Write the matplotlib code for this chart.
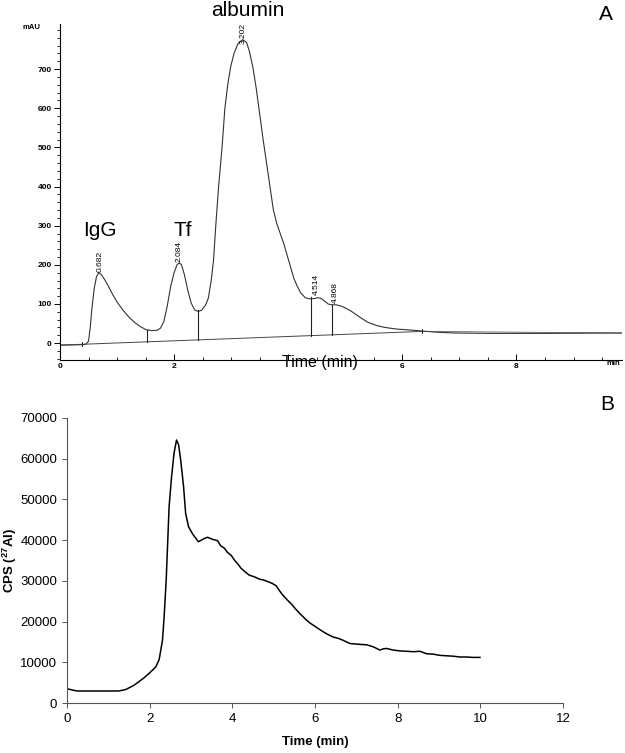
import matplotlib
matplotlib.use("Agg")
import matplotlib.pyplot as plt
from matplotlib.ticker import MultipleLocator

plt.rcParams['font.family'] = ['Liberation Sans', 'DejaVu Sans']
plt.rcParams['mathtext.fontset'] = 'custom'
plt.rcParams['mathtext.rm'] = 'Liberation Sans'
plt.rcParams['mathtext.bf'] = 'Liberation Sans:bold'

# panel A: UV chromatogram (min, mAU)
uv_time = [0.00, 0.38, 0.45, 0.50, 0.53, 0.56, 0.60, 0.64, 0.68, 0.72, 0.78, 0.85,
           0.92, 1.00, 1.10, 1.20, 1.30, 1.40, 1.50, 1.60, 1.70, 1.76, 1.82, 1.88,
           1.94, 2.00, 2.05, 2.09, 2.13, 2.18, 2.24, 2.30, 2.36, 2.42, 2.48, 2.55,
           2.60, 2.65, 2.69, 2.73, 2.78, 2.84, 2.89, 2.94, 2.99, 3.05, 3.12, 3.20,
           3.27, 3.32, 3.38, 3.44, 3.50, 3.56, 3.62, 3.68, 3.74, 3.80, 3.86, 3.92,
           3.98, 4.04, 4.10, 4.16, 4.22, 4.30, 4.38, 4.46, 4.52, 4.58, 4.64, 4.70,
           4.76, 4.84, 4.92, 5.00, 5.10, 5.20, 5.30, 5.40, 5.55, 5.70, 5.90, 6.10,
           6.35, 6.60, 6.90, 7.50, 8.50, 9.85]
uv_mau = [-5, -4, -3, 5, 40, 90, 140, 170, 180, 176, 163, 145,
          125, 105, 85, 68, 54, 43, 35, 32, 33, 38, 55, 95,
          145, 180, 200, 205, 200, 175, 135, 102, 85, 81, 84, 97,
          115, 160, 210, 300, 400, 500, 600, 660, 705, 740, 765, 775,
          768, 745, 705, 650, 585, 520, 460, 400, 340, 305, 280, 255,
          225, 195, 165, 145, 128, 116, 113, 114, 116, 114, 107, 100,
          98, 98, 95, 90, 82, 72, 62, 53, 45, 40, 36, 34,
          31, 28, 26, 25, 25, 26]

baseline_t = [0.0, 6.35]
baseline_v = [-5, 30]

peak_labels = ["0.682", "2.084", "3.202", "4.514", "4.868"]
peak_label_t = [0.70, 2.09, 3.21, 4.49, 4.82]
peak_label_v = [182, 208, 764, 123, 103]

drop_t = [1.53, 2.42, 4.40, 4.77]
drop_top = [33, 85, 118, 97]

# panel B: 27Al ICP-MS trace (min, CPS)
icp_time = [0.00, 0.24, 0.60, 1.00, 1.25, 1.42, 1.62, 1.86, 2.00, 2.15, 2.23, 2.31,
            2.35, 2.40, 2.47, 2.53, 2.59, 2.65, 2.70, 2.75, 2.82, 2.87, 2.94, 3.04,
            3.18, 3.32, 3.40, 3.52, 3.64, 3.72, 3.81, 3.88, 3.97, 4.05, 4.13, 4.21,
            4.31, 4.41, 4.53, 4.60, 4.66, 4.76, 4.86, 4.96, 5.06, 5.14, 5.22, 5.33,
            5.43, 5.53, 5.63, 5.75, 5.87, 5.96, 6.12, 6.28, 6.44, 6.56, 6.68, 6.76,
            6.85, 7.09, 7.25, 7.41, 7.57, 7.65, 7.73, 7.89, 8.05, 8.21, 8.38, 8.54,
            8.70, 8.86, 9.02, 9.18, 9.34, 9.50, 9.66, 9.82, 9.99]
icp_cps = [3500, 2950, 2950, 2950, 2950, 3300, 4350, 6150, 7400, 8900, 10700, 15400,
           21200, 30200, 48200, 55600, 61400, 64600, 63400, 59700, 53200, 46600, 43300, 41500,
           39600, 40400, 40700, 40200, 39900, 38600, 38000, 37000, 36300, 35100, 34200, 33100,
           32200, 31400, 31000, 30700, 30400, 30200, 29800, 29400, 28800, 27600, 26500, 25300,
           24300, 23100, 22000, 20800, 19700, 19100, 18000, 17000, 16200, 15900, 15400, 15000,
           14600, 14400, 14300, 13800, 13000, 13300, 13400, 13000, 12800, 12700, 12600, 12700,
           12100, 12000, 11700, 11600, 11500, 11300, 11300, 11200, 11200]

W, H = 625, 753
fig = plt.figure(figsize=(6.25, 7.53), dpi=100)

# ---- panel A ----
axA = fig.add_axes([60 / W, 1 - 360 / H, 562 / W, 336 / H])
axA.plot(uv_time, uv_mau, color='#333333', lw=0.8)
axA.plot(baseline_t, baseline_v, color='#444444', lw=0.7)
axA.plot([baseline_t[1], 9.85], [baseline_v[1], 26], color='#444444', lw=0.5)
for t, top in zip(drop_t, drop_top):
    b = baseline_v[0] + (baseline_v[1] - baseline_v[0]) * t / baseline_t[1]
    axA.plot([t, t], [b, top], color='#222222', lw=0.8)
axA.plot([0.38, 0.38], [-6, 2], color='#222222', lw=0.7)
axA.plot([6.35, 6.35], [25, 35], color='#222222', lw=0.7)
for lab, t, v in zip(peak_labels, peak_label_t, peak_label_v):
    axA.text(t, v, lab, rotation=90, fontsize=6, ha='center', va='bottom')

axA.set_xlim(0, 9.85)
axA.set_ylim(-43, 815)
axA.spines['top'].set_visible(False)
axA.spines['right'].set_visible(False)
axA.spines['left'].set_linewidth(0.8)
axA.spines['bottom'].set_linewidth(0.8)
axA.xaxis.set_minor_locator(MultipleLocator(0.5))
axA.yaxis.set_minor_locator(MultipleLocator(20))
axA.set_yticks(range(0, 800, 100))
axA.set_xticks(range(0, 10, 2))
# the "4" label sits under the axis title in the original
axA.set_xticklabels(['0', '2', '', '6', '8'])
axA.tick_params(axis='both', which='major', labelsize=6, length=4, width=0.7, pad=2)
axA.tick_params(axis='x', which='major', direction='in')
axA.tick_params(axis='x', which='minor', direction='in', length=2.5)
axA.tick_params(axis='y', which='minor', direction='out', length=2.5)
for lab in axA.get_xticklabels() + axA.get_yticklabels():
    lab.set_fontweight('bold')
axA.text(-0.35, 805, "mAU", fontsize=5.5, fontweight='bold', ha='right', va='center')
axA.text(9.7, -51, "min", fontsize=5.5, fontweight='bold', ha='center', va='center')
axA.text(4.55, -49, "Time (min)", fontsize=11.5, ha='center', va='center')

fig.text(248 / W, 1 - 11 / H, "albumin", fontsize=15, ha='center', va='center')
fig.text(100 / W, 1 - 231 / H, "IgG", fontsize=15, ha='center', va='center')
fig.text(183 / W, 1 - 230 / H, "Tf", fontsize=15, ha='center', va='center')
fig.text(606 / W, 1 - 15 / H, "A", fontsize=15, ha='center', va='center')

# ---- panel B ----
axB = fig.add_axes([67 / W, 1 - 703 / H, 496 / W, 285 / H])
axB.plot(icp_time, icp_cps, color='black', lw=1.1)
axB.set_xlim(0, 12)
axB.set_ylim(0, 70000)
axB.set_xticks(range(0, 13, 2))
axB.set_yticks(range(0, 70001, 10000))
axB.spines['top'].set_visible(False)
axB.spines['right'].set_visible(False)
axB.spines['left'].set_color('#555555')
axB.spines['bottom'].set_color('#555555')
axB.tick_params(axis='both', labelsize=9.5, length=3.5, width=0.7, color='#555555')
axB.set_xlabel("Time (min)", fontsize=9.5, fontweight='bold', labelpad=8)
fig.text(10 / W, 1 - 560 / H, r"CPS ($\mathbf{^{27}Al}$)", fontsize=9.5, fontweight='bold',
         rotation=90, ha='center', va='center')
fig.text(607 / W, 1 - 405 / H, "B", fontsize=15, ha='center', va='center')

fig.savefig("out.png", dpi=100)
